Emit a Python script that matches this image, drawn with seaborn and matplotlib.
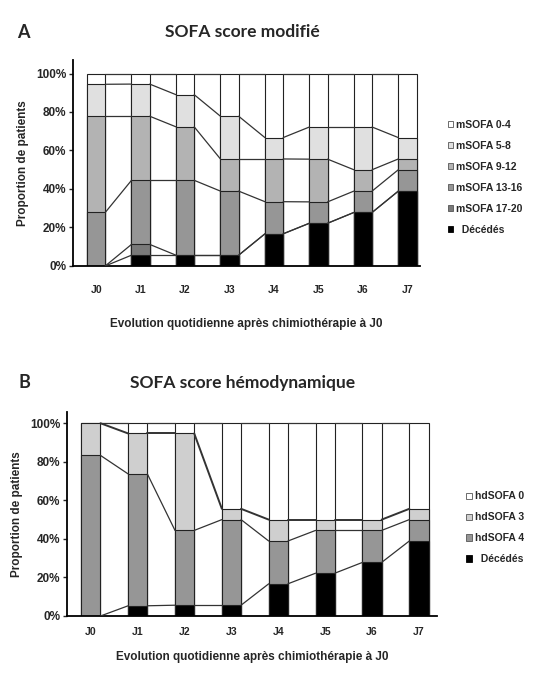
import numpy as np
import pandas as pd
import seaborn as sns
import matplotlib.pyplot as plt
from matplotlib.patches import Patch

# Données (% de patients par jour)
JOURS = ["J0", "J1", "J2", "J3", "J4", "J5", "J6", "J7"]

# Panel A : SOFA score modifié (du bas vers le haut)
A_DECEDES = [0.0, 5.6, 5.6, 5.6, 16.7, 22.2, 27.8, 38.9]
A_MSOFA_17_20 = [0.0, 5.6, 0.0, 0.0, 0.0, 0.0, 0.0, 0.0]
A_MSOFA_13_16 = [27.8, 33.3, 38.9, 33.3, 16.7, 11.1, 11.1, 11.1]
A_MSOFA_9_12 = [50.0, 33.3, 27.8, 16.7, 22.2, 22.2, 11.1, 5.6]
A_MSOFA_5_8 = [16.6, 16.7, 16.7, 22.2, 11.1, 16.7, 22.2, 11.1]
A_MSOFA_0_4 = [5.6, 5.5, 11.0, 22.2, 33.3, 27.8, 27.8, 33.3]

# Panel B : SOFA score hémodynamique
B_DECEDES = [0.0, 5.3, 5.6, 5.6, 16.7, 22.2, 27.8, 38.9]
B_HDSOFA_4 = [83.3, 68.4, 38.8, 44.4, 22.2, 22.2, 16.6, 11.1]
B_HDSOFA_3 = [16.7, 21.0, 50.3, 5.6, 11.1, 5.6, 5.6, 5.6]
B_HDSOFA_0 = [0.0, 5.3, 5.3, 44.4, 50.0, 50.0, 50.0, 44.4]

A_LABELS = ["Décédés", "mSOFA 17-20", "mSOFA 13-16", "mSOFA 9-12", "mSOFA 5-8", "mSOFA 0-4"]
A_COLORS = ["black", "#7a7a7a", "#969696", "#b3b3b3", "#e0e0e0", "white"]
B_LABELS = ["Décédés", "hdSOFA 4", "hdSOFA 3", "hdSOFA 0"]
B_COLORS = ["black", "#969696", "#cfcfcf", "white"]

BAR_W = 0.41


def stacked_panel(ax, series, colors, ylim_top, xlim, xpad, xlabelpad, thick_idx=None):
    df = pd.DataFrame(np.array(series).T, index=JOURS)
    cum = df.cumsum(axis=1)
    # on dessine du plus haut cumul au plus bas
    for k in reversed(range(cum.shape[1])):
        sns.barplot(x=JOURS, y=cum[k].values, color=colors[k], width=BAR_W,
                    edgecolor="#222222", linewidth=0.8, saturation=1, ax=ax, zorder=2)
    # lignes de séries entre les barres
    for k in range(cum.shape[1]):
        vals = cum[k].values
        lw = 1.4 if k == thick_idx else 0.9
        for i in range(len(JOURS) - 1):
            ax.plot([i + BAR_W / 2, i + 1 - BAR_W / 2], [vals[i], vals[i + 1]],
                    color="#333333", lw=lw, zorder=3)
    ax.set_ylim(0, ylim_top)
    ax.set_xlim(*xlim)
    ax.set_yticks([0, 20, 40, 60, 80, 100])
    ax.set_yticklabels([f"{v}%" for v in range(0, 101, 20)])
    for sp in ["top", "right"]:
        ax.spines[sp].set_visible(False)
    for sp in ["left", "bottom"]:
        ax.spines[sp].set_linewidth(1.3)
        ax.spines[sp].set_color("black")
    ax.tick_params(axis="y", length=3, width=1, labelsize=8.5, pad=2)
    ax.tick_params(axis="x", length=0, labelsize=7.5, pad=xpad)
    for t in ax.get_xticklabels() + ax.get_yticklabels():
        t.set_fontweight("bold")
    ax.set_ylabel("Proportion de patients", fontsize=8.5, fontweight="bold", labelpad=5)
    ax.set_xlabel("Evolution quotidienne après chimiothérapie à J0", fontsize=8.5,
                  fontweight="bold", labelpad=xlabelpad)


def legend(fig, labels, colors, anchor):
    handles = []
    for lab, c in zip(labels, colors):
        ec = "black" if c == "black" else "#555555"
        handles.append(Patch(facecolor=c, edgecolor=ec, linewidth=0.6, label=lab))
    handles = handles[::-1]
    labs = [h.get_label() if h.get_label() != "Décédés" else "  Décédés" for h in handles]
    fig.legend(handles, labs, loc="upper left", bbox_to_anchor=anchor, frameon=False,
               prop={"family": "Liberation Sans", "weight": "bold", "size": 7.5},
               handlelength=0.55, handleheight=0.55, handletextpad=0.25,
               labelspacing=1.05, borderaxespad=0)


sns.set_style("ticks")
plt.rcParams["font.family"] = ["Liberation Sans", "DejaVu Sans"]

fig = plt.figure(figsize=(5.42, 6.73), dpi=100)

axA = fig.add_axes([0.1347, 0.6048, 0.640, 0.306])
stacked_panel(axA, [A_DECEDES, A_MSOFA_17_20, A_MSOFA_13_16, A_MSOFA_9_12, A_MSOFA_5_8, A_MSOFA_0_4],
              A_COLORS, 107, (-0.52, 7.28), xpad=14, xlabelpad=16)

axB = fig.add_axes([0.1236, 0.0847, 0.683, 0.3036])
stacked_panel(axB, [B_DECEDES, B_HDSOFA_4, B_HDSOFA_3, B_HDSOFA_0],
              B_COLORS, 106, (-0.51, 7.39), xpad=8, xlabelpad=10, thick_idx=2)

legend(fig, A_LABELS, A_COLORS, (0.818, 0.828))
legend(fig, B_LABELS, B_COLORS, (0.853, 0.276))

fig.text(0.032, 0.952, "A", fontsize=13, fontweight="bold", family=["Lato", "DejaVu Sans"], va="center")
fig.text(0.447, 0.952, "SOFA score modifié", fontsize=12.5, fontweight="bold",
         family=["Lato", "DejaVu Sans"], ha="center", va="center")
fig.text(0.035, 0.431, "B", fontsize=13, fontweight="bold", family=["Lato", "DejaVu Sans"], va="center")
fig.text(0.447, 0.431, "SOFA score hémodynamique", fontsize=12.5, fontweight="bold",
         family=["Lato", "DejaVu Sans"], ha="center", va="center")

fig.savefig("out.png", dpi=100, facecolor="white")
